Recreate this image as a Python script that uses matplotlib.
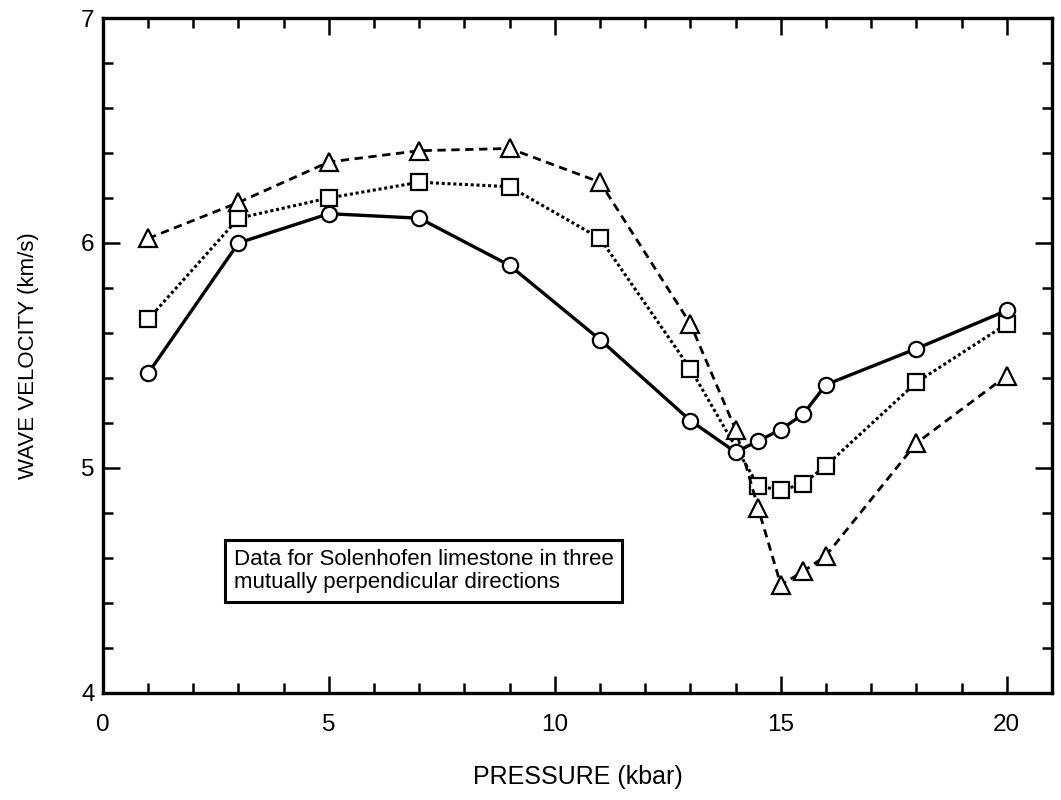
import matplotlib
matplotlib.use('Agg')
import matplotlib.pyplot as plt
from matplotlib.ticker import MultipleLocator

plt.rcParams['font.family'] = ['Liberation Sans', 'DejaVu Sans']

# pressure (kbar) and velocity (km/s) for the three directions
p_circle = [1, 3, 5, 7, 9, 11, 13, 14, 14.5, 15, 15.5, 16, 18, 20]
v_circle = [5.42, 6.00, 6.13, 6.11, 5.90, 5.57, 5.21, 5.07, 5.12, 5.17, 5.24, 5.37, 5.53, 5.70]

p_square = [1, 3, 5, 7, 9, 11, 13, 14.5, 15, 15.5, 16, 18, 20]
v_square = [5.66, 6.11, 6.20, 6.27, 6.25, 6.02, 5.44, 4.92, 4.90, 4.93, 5.01, 5.38, 5.64]

p_tri = [1, 3, 5, 7, 9, 11, 13, 14, 14.5, 15, 15.5, 16, 18, 20]
v_tri = [6.02, 6.18, 6.36, 6.41, 6.42, 6.27, 5.64, 5.17, 4.82, 4.48, 4.54, 4.61, 5.11, 5.41]

fig = plt.figure(figsize=(10.61, 8), dpi=100)
ax = fig.add_axes([0.097, 0.134, 0.8945, 0.8435])

mk = dict(markerfacecolor='white', markeredgecolor='black',
          markeredgewidth=1.6, color='black')
ax.plot(p_circle, v_circle, '-', marker='o', markersize=11, lw=2.4, **mk, zorder=3)
ax.plot(p_square, v_square, linestyle=(0, (1, 0.9)), marker='s', markersize=11,
        lw=2.2, **mk, zorder=2)
ax.plot(p_tri, v_tri, linestyle=(0, (3, 2)), marker='^', markersize=12.5,
        lw=2.0, **mk, zorder=2)

ax.set_xlim(0, 21)
ax.set_ylim(4, 7)
ax.xaxis.set_minor_locator(MultipleLocator(1))
ax.yaxis.set_minor_locator(MultipleLocator(0.2))
ax.set_xticks([0, 5, 10, 15, 20])
ax.set_yticks([4, 5, 6, 7])

ax.tick_params(which='both', direction='in', top=True, right=True, width=1.8)
ax.tick_params(which='major', length=12, labelsize=17.5)
ax.tick_params(axis='x', which='major', pad=15)
ax.tick_params(axis='y', which='major', pad=6)
ax.tick_params(which='minor', length=7)
for s in ax.spines.values():
    s.set_linewidth(2.4)

ax.set_xlabel('PRESSURE (kbar)', fontsize=18, labelpad=21)
ax.set_ylabel('WAVE VELOCITY (km/s)', fontsize=16, labelpad=30)

ax.text(0.1378, 0.2135, 'Data for Solenhofen limestone in three\nmutually perpendicular directions',
        transform=ax.transAxes, fontsize=16, va='top', ha='left', linespacing=1.15,
        bbox=dict(boxstyle='square,pad=0.38', facecolor='white', edgecolor='black', linewidth=2.2))

fig.savefig('out.png', dpi=100)
